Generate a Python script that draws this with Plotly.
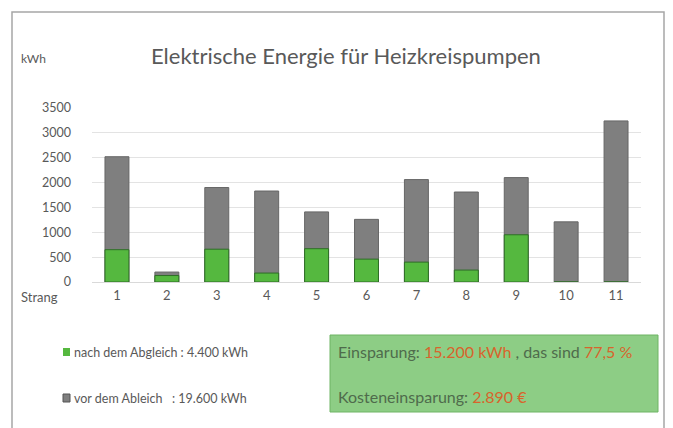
import plotly.graph_objects as go

strang = ["1", "2", "3", "4", "5", "6", "7", "8", "9", "10", "11"]
vor_dem_abgleich = [2520, 200, 1900, 1830, 1410, 1260, 2060, 1810, 2100, 1210, 3240]
nach_dem_abgleich = [650, 130, 660, 180, 670, 460, 400, 240, 950, 0, 0]
y_ticks = [0, 500, 1000, 1500, 2000, 2500, 3000, 3500]

W, H = 673, 428
L, R, T, B = 92, 32, 108, 146
PW, PH = W - L - R, H - T - B

def px(x):
    return (x - L) / PW

def py(y):
    return (H - B - y) / PH

FONT = "Lato, 'Open Sans', sans-serif"
GRAY_TXT = "#595959"

fig = go.Figure()
fig.add_trace(go.Bar(x=strang, y=vor_dem_abgleich, name="vor dem Ableich : 19.600 kWh",
                     marker=dict(color="#7f7f7f", line=dict(color="#666666", width=1)),
                     width=0.48, showlegend=False))
fig.add_trace(go.Bar(x=strang, y=nach_dem_abgleich, name="nach dem Abgleich : 4.400 kWh",
                     marker=dict(color="#55b83f", line=dict(color="#2f6e27", width=1)),
                     width=0.48, showlegend=False))

shapes = [
    dict(type="rect", xref="paper", yref="paper", x0=px(12), x1=px(664), y0=py(440), y1=py(12),
         line=dict(color="#a6a6a6", width=1.5), fillcolor="rgba(0,0,0,0)", layer="below"),
    dict(type="rect", xref="paper", yref="paper", x0=px(63), x1=px(70), y0=py(356), y1=py(348),
         line=dict(width=0), fillcolor="#55b83f"),
    dict(type="rect", xref="paper", yref="paper", x0=px(63), x1=px(70), y0=py(402), y1=py(394),
         line=dict(color="#555555", width=1), fillcolor="#7f7f7f"),
    dict(type="rect", xref="paper", yref="paper", x0=px(330), x1=px(658), y0=py(412), y1=py(335),
         line=dict(color="#6fb464", width=1), fillcolor="#8dcd85"),
]

ORANGE = "#d8642c"
BOXTXT = "#4f6b4c"
annotations = [
    dict(text="Elektrische Energie für Heizkreispumpen", x=px(346), y=py(55), xref="paper", yref="paper",
         showarrow=False, font=dict(family=FONT, size=22, color=GRAY_TXT), xanchor="center", yanchor="middle"),
    dict(text="kWh", x=px(19), y=py(58), xref="paper", yref="paper", showarrow=False,
         font=dict(family=FONT, size=12, color=GRAY_TXT), xanchor="left", yanchor="middle"),
    dict(text="Strang", x=px(19), y=py(297), xref="paper", yref="paper", showarrow=False,
         font=dict(family=FONT, size=13, color=GRAY_TXT), xanchor="left", yanchor="middle"),
    dict(text="nach dem Abgleich : 4.400 kWh", x=px(72), y=py(352), xref="paper", yref="paper",
         showarrow=False, font=dict(family=FONT, size=12.5, color=GRAY_TXT), xanchor="left", yanchor="middle"),
    dict(text="vor dem Ableich   : 19.600 kWh", x=px(72), y=py(398), xref="paper", yref="paper",
         showarrow=False, font=dict(family=FONT, size=12.5, color=GRAY_TXT), xanchor="left", yanchor="middle"),
    dict(text=f"Einsparung: <span style='color:{ORANGE}'>15.200 kWh</span> , das sind <span style='color:{ORANGE}'>77,5 %</span>",
         x=px(336), y=py(351), xref="paper", yref="paper", showarrow=False,
         font=dict(family=FONT, size=16, color=BOXTXT), xanchor="left", yanchor="middle"),
    dict(text=f"Kosteneinsparung: <span style='color:{ORANGE}'>2.890 €</span>",
         x=px(336), y=py(396), xref="paper", yref="paper", showarrow=False,
         font=dict(family=FONT, size=16, color=BOXTXT), xanchor="left", yanchor="middle"),
]

fig.update_layout(
    width=W, height=H,
    margin=dict(l=L, r=R, t=T, b=B, pad=0),
    paper_bgcolor="white", plot_bgcolor="white",
    barmode="overlay",
    shapes=shapes, annotations=annotations,
    font=dict(family=FONT, color=GRAY_TXT),
    xaxis=dict(type="category", showgrid=False, showline=False, zeroline=False,
               tickfont=dict(family=FONT, size=13, color=GRAY_TXT), ticks="", ticklabelstandoff=4),
    yaxis=dict(range=[0, 3500], tickvals=y_ticks, showgrid=True, gridcolor="#e3e3e3", gridwidth=1,
               zeroline=True, zerolinecolor="#d9d9d9", zerolinewidth=1, showline=False,
               tickfont=dict(family=FONT, size=12.5, color=GRAY_TXT), ticks="", ticklabelstandoff=20),
)

fig.write_html("out.html", config={"displayModeBar": False},
               post_script="document.body.style.margin='0';document.body.style.overflow='hidden';")
